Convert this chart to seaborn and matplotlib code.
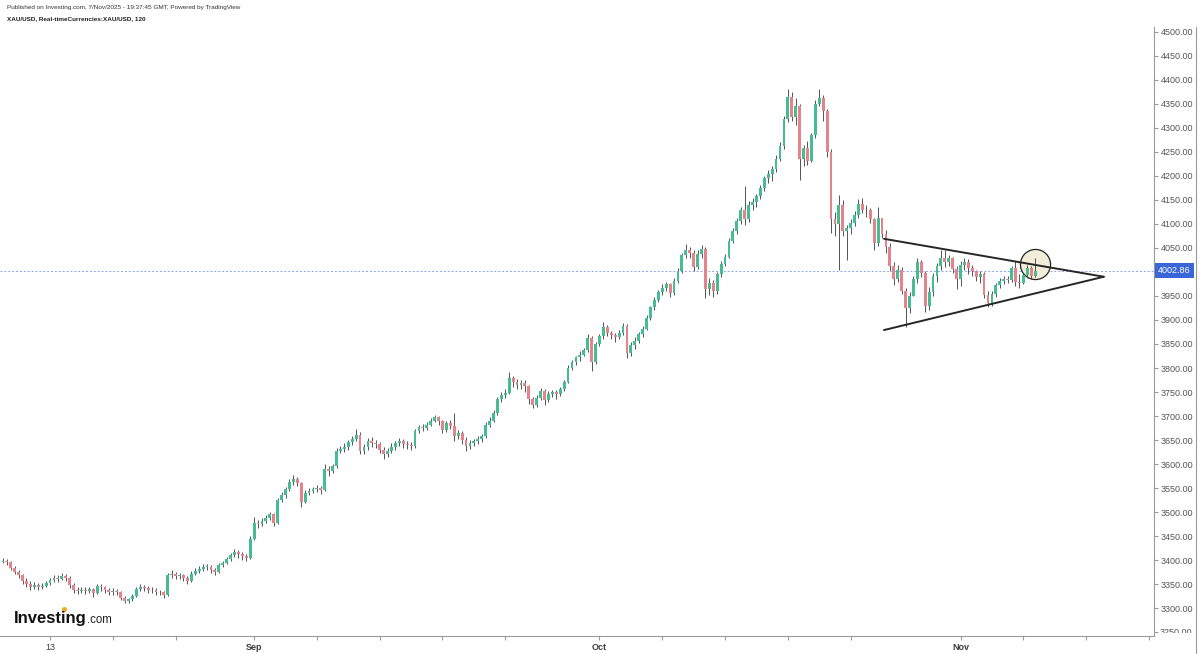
import numpy as np
import pandas as pd
import matplotlib
matplotlib.use('Agg')
import matplotlib.pyplot as plt
import matplotlib.transforms as mtransforms
from matplotlib.lines import Line2D
import seaborn as sns

sns.set_theme(style='white')
plt.rcParams['font.family'] = ['Liberation Sans', 'DejaVu Sans']

# XAU/USD, 4 candles per trading day, 8 Aug .. 7 Nov 2025
FIRST_OPEN = 3396.0

CLOSES = [
    [3399, 3397, 3384, 3376], [3368, 3357, 3350, 3345], [3348, 3343, 3347, 3352],
    [3358, 3362, 3360, 3366], [3362, 3349, 3338, 3336], [3338, 3336, 3339, 3331],
    [3346, 3343, 3338, 3334], [3335, 3333, 3322, 3315], [3318, 3326, 3340, 3345],
    [3341, 3338, 3337, 3334], [3333, 3327, 3368, 3372], [3366, 3368, 3362, 3356],
    [3372, 3378, 3381, 3386], [3386, 3380, 3376, 3389], [3394, 3402, 3410, 3416],
    [3412, 3408, 3405, 3444], [3478, 3475, 3482, 3488], [3495, 3478, 3526, 3535],
    [3548, 3562, 3569, 3560], [3522, 3540, 3544, 3548], [3550, 3545, 3590, 3586],
    [3595, 3628, 3631, 3636], [3645, 3652, 3660, 3628], [3636, 3648, 3644, 3641],
    [3630, 3620, 3628, 3636], [3643, 3648, 3642, 3640], [3637, 3668, 3678, 3675],
    [3682, 3690, 3698, 3689], [3670, 3685, 3680, 3658], [3664, 3650, 3638, 3644],
    [3648, 3652, 3658, 3682], [3690, 3706, 3735, 3744], [3748, 3779, 3771, 3765],
    [3768, 3762, 3735, 3722], [3738, 3752, 3733, 3746], [3750, 3745, 3756, 3770],
    [3800, 3812, 3822, 3828], [3838, 3862, 3812, 3850], [3866, 3885, 3872, 3868],
    [3864, 3872, 3888, 3832], [3848, 3856, 3870, 3882], [3905, 3926, 3942, 3958],
    [3966, 3975, 3956, 3982], [4002, 4035, 4046, 4040], [4010, 4038, 4048, 3965],
    [3978, 3960, 3995, 4016], [4032, 4065, 4085, 4106], [4128, 4110, 4140, 4146],
    [4158, 4175, 4196, 4204], [4215, 4236, 4262, 4318], [4365, 4322, 4345, 4235],
    [4258, 4232, 4285, 4350], [4362, 4335, 4250, 4110], [4100, 4140, 4085, 4092],
    [4102, 4118, 4142, 4130], [4128, 4110, 4060, 4112], [4080, 4052, 4012, 3985],
    [4005, 3960, 3925, 3950], [3985, 4020, 3998, 3930], [3958, 3992, 4012, 4030],
    [4020, 4028, 4006, 3985], [4015, 4020, 4008, 4002], [3990, 3995, 3952, 3935],
    [3955, 3972, 3982, 3986], [3984, 4008, 3980, 3978], [3994, 4008, 3992, 4002.86],
]
HIGHS = [
    [3404, 3403, 3399, 3388], [3380, 3371, 3362, 3356], [3354, 3352, 3353, 3357],
    [3363, 3368, 3369, 3373], [3372, 3366, 3352, 3343], [3344, 3343, 3345, 3342],
    [3350, 3351, 3347, 3342], [3341, 3340, 3336, 3326], [3322, 3330, 3344, 3350],
    [3349, 3346, 3343, 3341], [3338, 3336, 3374, 3379], [3375, 3373, 3371, 3366],
    [3377, 3383, 3387, 3391], [3391, 3389, 3384, 3393], [3398, 3406, 3414, 3423],
    [3421, 3417, 3413, 3450], [3489, 3484, 3488, 3494], [3501, 3499, 3530, 3542],
    [3552, 3568, 3578, 3574], [3563, 3545, 3551, 3553], [3556, 3555, 3600, 3596],
    [3600, 3634, 3637, 3643], [3650, 3659, 3674, 3666], [3641, 3654, 3656, 3650],
    [3646, 3636, 3633, 3643], [3647, 3655, 3652, 3647], [3645, 3672, 3682, 3683],
    [3688, 3695, 3703, 3700], [3692, 3689, 3691, 3707], [3670, 3668, 3657, 3650],
    [3653, 3659, 3663, 3687], [3697, 3712, 3740, 3750], [3756, 3791, 3784, 3778],
    [3775, 3774, 3765, 3740], [3744, 3758, 3756, 3752], [3755, 3754, 3761, 3776],
    [3806, 3817, 3826, 3835], [3842, 3871, 3866, 3855], [3870, 3895, 3890, 3878],
    [3872, 3880, 3894, 3892], [3855, 3864, 3874, 3888], [3910, 3930, 3948, 3963],
    [3974, 3980, 3978, 3987], [4008, 4040, 4059, 4052], [4045, 4045, 4057, 4052],
    [3988, 3984, 4000, 4022], [4038, 4070, 4092, 4112], [4135, 4179, 4148, 4154],
    [4163, 4180, 4200, 4212], [4220, 4243, 4270, 4325], [4380, 4374, 4362, 4350],
    [4265, 4272, 4290, 4358], [4381, 4368, 4340, 4255], [4125, 4160, 4150, 4098],
    [4110, 4126, 4152, 4155], [4140, 4134, 4112, 4135], [4112, 4088, 4060, 4020],
    [4015, 4010, 3966, 3958], [3992, 4030, 4025, 4002], [3968, 3998, 4018, 4046],
    [4045, 4036, 4032, 4012], [4022, 4030, 4026, 4015], [4005, 4002, 4000, 3960],
    [3960, 3978, 3988, 3992], [3992, 4012, 4022, 3995], [3998, 4015, 4012, 4028],
]
LOWS = [
    [3393, 3390, 3380, 3372], [3362, 3350, 3343, 3338], [3340, 3337, 3339, 3344],
    [3349, 3354, 3354, 3358], [3356, 3342, 3332, 3330], [3331, 3330, 3331, 3324],
    [3329, 3336, 3332, 3327], [3328, 3327, 3317, 3310], [3311, 3315, 3324, 3336],
    [3335, 3332, 3331, 3328], [3327, 3322, 3325, 3363], [3360, 3361, 3356, 3351],
    [3354, 3370, 3374, 3378], [3380, 3374, 3369, 3374], [3385, 3391, 3399, 3406],
    [3405, 3401, 3398, 3403], [3442, 3466, 3472, 3478], [3484, 3470, 3476, 3522],
    [3530, 3543, 3557, 3554], [3511, 3518, 3535, 3539], [3541, 3537, 3543, 3576],
    [3582, 3592, 3622, 3626], [3630, 3639, 3647, 3620], [3620, 3630, 3636, 3633],
    [3624, 3611, 3614, 3623], [3630, 3638, 3634, 3632], [3630, 3634, 3665, 3668],
    [3670, 3679, 3687, 3682], [3664, 3666, 3673, 3648], [3652, 3642, 3627, 3632],
    [3637, 3642, 3646, 3654], [3678, 3688, 3703, 3730], [3738, 3745, 3760, 3756],
    [3757, 3750, 3726, 3717], [3718, 3734, 3722, 3729], [3740, 3736, 3742, 3752],
    [3768, 3796, 3806, 3815], [3824, 3834, 3793, 3808], [3845, 3860, 3866, 3860],
    [3855, 3860, 3868, 3820], [3826, 3840, 3852, 3865], [3880, 3900, 3920, 3938],
    [3952, 3960, 3948, 3952], [3978, 3998, 4028, 4030], [4002, 4006, 4030, 3945],
    [3952, 3948, 3955, 3990], [4012, 4028, 4060, 4080], [4100, 4098, 4105, 4128],
    [4135, 4152, 4168, 4186], [4190, 4208, 4230, 4255], [4312, 4315, 4305, 4192],
    [4220, 4222, 4228, 4278], [4345, 4315, 4240, 4082], [4075, 4004, 4075, 4025],
    [4080, 4095, 4112, 4122], [4115, 4102, 4046, 4055], [4070, 4040, 4002, 3972],
    [3980, 3955, 3886, 3915], [3950, 3978, 3990, 3916], [3920, 3950, 3980, 4005],
    [4010, 4012, 3998, 3965], [3970, 4005, 3996, 3992], [3982, 3978, 3945, 3928],
    [3930, 3948, 3966, 3975], [3976, 3980, 3970, 3966], [3975, 3988, 3985, 3990],
]

LAST_PRICE = 4002.86

# triangle drawn on the chart (bar index, price)
TRI_BARS = [224.5, 280.5]
TRI_UPPER = [4069, 3990]
TRI_LOWER = [3879, 3990]
CIRCLE_BAR = 262.9
CIRCLE_PRICE = 4016.7

# x axis ticks (dates), labelled ones get a text
TICK_DATES = ['2025-08-13', '2025-08-19', '2025-08-25', '2025-09-01', '2025-09-05',
              '2025-09-11', '2025-09-17', '2025-09-23', '2025-10-01', '2025-10-07',
              '2025-10-13', '2025-10-17', '2025-10-23', '2025-11-03', '2025-11-07',
              '2025-11-13', '2025-11-19']
TICK_TEXT = {'2025-08-13': '13', '2025-09-01': 'Sep', '2025-10-01': 'Oct', '2025-11-03': 'Nov'}

UP = '#45bd92'
DOWN = '#e5828a'
WICK = '#474747'
AXIS = '#9a9a9a'
BPD = 4

closes = np.array(CLOSES, dtype=float).ravel()
df = pd.DataFrame({
    'close': closes,
    'high': np.array(HIGHS, dtype=float).ravel(),
    'low': np.array(LOWS, dtype=float).ravel(),
})
df['open'] = np.r_[FIRST_OPEN, closes[:-1]]
df['bar'] = np.arange(len(df))
df['high'] = df[['high', 'open', 'close']].max(axis=1)
df['low'] = df[['low', 'open', 'close']].min(axis=1)
df['up'] = df['close'] >= df['open']

fig = plt.figure(figsize=(12, 6.54), dpi=100)
fig.patch.set_facecolor('white')
ax = fig.add_axes([0, 18 / 654, 1154 / 1200, 609 / 654])

ax.axhline(LAST_PRICE, color='#8aa5ec', lw=0.7, ls=(0, (2, 2)), zorder=1)

# circle highlight
sns.scatterplot(x=[CIRCLE_BAR], y=[CIRCLE_PRICE], s=470, color='#f1edd8',
                edgecolor='#222222', linewidth=0.9, ax=ax, zorder=2, legend=False)

ax.vlines(df['bar'], df['low'], df['high'], colors=WICK, lw=0.65, zorder=3)
body = (df['close'] - df['open']).abs().clip(lower=1.5)
ax.bar(df['bar'], body, bottom=df[['open', 'close']].min(axis=1), width=0.72,
       color=np.where(df['up'], UP, DOWN), linewidth=0, zorder=4)

tri = pd.DataFrame({
    'bar': TRI_BARS + TRI_BARS,
    'price': TRI_UPPER + TRI_LOWER,
    'side': ['upper', 'upper', 'lower', 'lower'],
})
sns.lineplot(data=tri, x='bar', y='price', units='side', estimator=None,
             sort=False, color='#262626', lw=1.4, ax=ax, zorder=5)

ax.set_xlim(-0.75, 293.3)
ax.set_ylim(3242, 4510)
ax.set_xlabel('')
ax.set_ylabel('')

for s in ['top', 'left']:
    ax.spines[s].set_visible(False)
for s in ['right', 'bottom']:
    ax.spines[s].set_visible(True)
    ax.spines[s].set_color(AXIS)
    ax.spines[s].set_linewidth(0.8)

# x ticks from the trading-day index
day_pos = {d.strftime('%Y-%m-%d'): i for i, d in
           enumerate(pd.bdate_range('2025-08-08', '2025-11-28'))}
xt = [day_pos[d] * BPD for d in TICK_DATES]
ax.set_xticks(xt)
ax.set_xticklabels([TICK_TEXT.get(d, '') for d in TICK_DATES])
ax.tick_params(axis='x', bottom=True, direction='out', length=3, width=0.8,
               color=AXIS, labelsize=6.5, labelcolor='#3c3c3c', pad=2)
for lbl, d in zip(ax.get_xticklabels(), TICK_DATES):
    if TICK_TEXT.get(d, '') not in ('', '13'):
        lbl.set_fontweight('bold')

# right price scale
ax.yaxis.tick_right()
yt = np.arange(3250, 4501, 50)
ax.set_yticks(yt)
ax.set_yticklabels(['' if v in (3250, 4000) else f'{v:.2f}' for v in yt])
ax.tick_params(axis='y', right=True, left=False, direction='out', length=3, width=0.8,
               color=AXIS, labelsize=6.5, labelcolor='#555555', pad=2)

trans = mtransforms.blended_transform_factory(ax.transAxes, ax.transData)
# lowest price label is cut by the time axis, as in the source
low_trans = mtransforms.offset_copy(trans, fig=fig, x=6, y=0, units='dots')
low_txt = fig.text(1.0, yt[0], f'{yt[0]:.2f}', transform=low_trans, ha='left', va='center',
                   fontsize=6.5, color='#555555')
low_txt.set_clip_box(mtransforms.TransformedBbox(
    mtransforms.Bbox([[0.9, 21 / 654], [1, 1]]), fig.transFigure))
low_txt.set_clip_on(True)

lbl_trans = mtransforms.offset_copy(trans, fig=fig, x=4, y=0, units='dots')
ax.text(1.0, LAST_PRICE, f'{LAST_PRICE:.2f}', transform=lbl_trans, ha='left', va='center',
        fontsize=6.5, color='white', clip_on=False, zorder=10,
        bbox=dict(boxstyle='square,pad=0.32', fc='#3b66d8', ec='none'))

fig.add_artist(Line2D([1196 / 1200] * 2, [0, 627 / 654], transform=fig.transFigure,
                      color=AXIS, lw=0.8))

fig.text(7 / 1200, 1 - 8 / 654,
         'Published on Investing.com, 7/Nov/2025 - 19:37:45 GMT, Powered by TradingView',
         fontsize=4.6, color='#333333', va='center')
fig.text(7 / 1200, 1 - 19 / 654, 'XAU/USD, Real-timeCurrencies:XAU/USD, 120',
         fontsize=4.6, fontweight='bold', color='#222222', va='center')

fig.text(14 / 1200, 1 - 623 / 654, 'Investing', fontsize=12, fontweight='bold',
         color='#111111', va='baseline')
fig.text(87 / 1200, 1 - 623 / 654, '.com', fontsize=8.3, color='#222222', va='baseline')
fig.add_artist(Line2D([64.2 / 1200], [1 - 609 / 654], transform=fig.transFigure,
                      marker='o', ms=2.6, color='#f5a623', lw=0))

fig.savefig('out.png', dpi=100, facecolor='white')
